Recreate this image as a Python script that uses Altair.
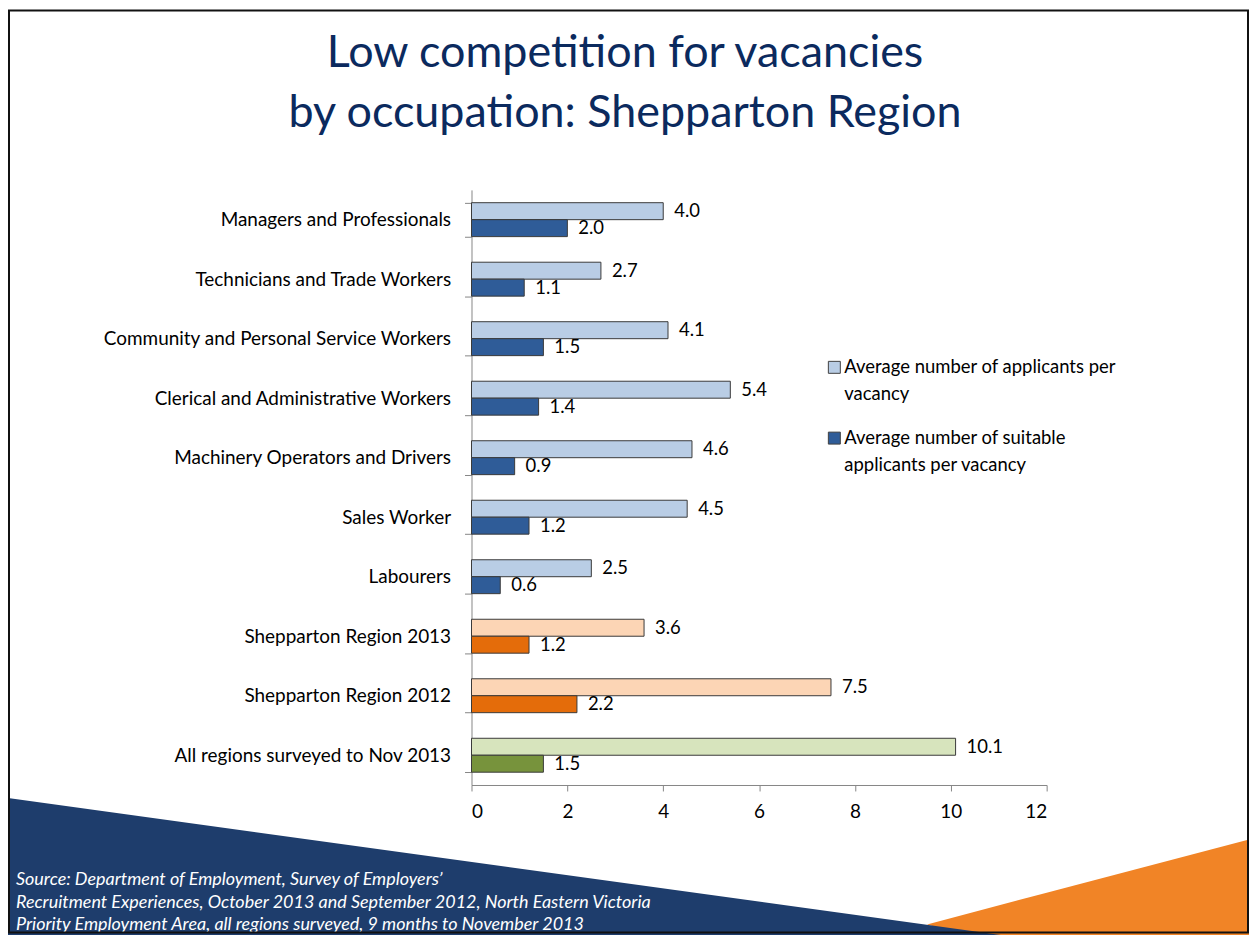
import altair as alt
import pandas as pd

# ---------------- data ----------------
categories = [
    "Managers and Professionals",
    "Technicians and Trade Workers",
    "Community and Personal Service Workers",
    "Clerical and Administrative Workers",
    "Machinery Operators and Drivers",
    "Sales Worker",
    "Labourers",
    "Shepparton Region 2013",
    "Shepparton Region 2012",
    "All regions surveyed to Nov 2013",
]
applicants = [4.0, 2.7, 4.1, 5.4, 4.6, 4.5, 2.5, 3.6, 7.5, 10.1]
suitable = [2.0, 1.1, 1.5, 1.4, 0.9, 1.2, 0.6, 1.2, 2.2, 1.5]
groups = ["occ"] * 7 + ["shep", "shep", "all"]

series_names = [
    "Average number of applicants per vacancy",
    "Average number of suitable applicants per vacancy",
]
light_colors = {"occ": "#B9CDE5", "shep": "#FCD5B5", "all": "#D7E4BD"}
dark_colors = {"occ": "#2F5C98", "shep": "#E46C0A", "all": "#77933C"}

title_lines = ["Low competition for vacancies", "by occupation: Shepparton Region"]
legend_lines_1 = ["Average number of applicants per", "vacancy"]
legend_lines_2 = ["Average number of suitable", "applicants per vacancy"]
source_lines = [
    "Source: Department of Employment, Survey of Employers\u2019",
    "Recruitment Experiences, October 2013 and September 2012, North Eastern Victoria",
    "Priority Employment Area, all regions surveyed, 9 months to November 2013",
]
x_ticks = [0, 2, 4, 6, 8, 10, 12]

rows = []
for c, a, s, g in zip(categories, applicants, suitable, groups):
    rows.append({"category": c, "series": series_names[0], "value": a,
                 "color": light_colors[g], "label": f"{a:.1f}"})
    rows.append({"category": c, "series": series_names[1], "value": s,
                 "color": dark_colors[g], "label": f"{s:.1f}"})
df = pd.DataFrame(rows)

FONT = "Lato"
W, H = 577, 597
PAD = {"left": 465, "top": 181, "right": 203, "bottom": 149}

# --------------- decorations ---------------
navy = pd.DataFrame({"x": [-473, 600], "y": [609, 757], "y2": [770, 770]})
orange = pd.DataFrame({"x": [457, 577, 790], "y": [737, 705, 649], "y2": [737, 770, 770]})

orange_layer = alt.Chart(orange).mark_area(color="#F18426", clip=False).encode(
    x=alt.X("x:Q", scale=None, axis=None),
    y=alt.Y("y:Q", scale=None, axis=None),
    y2="y2:Q",
)
navy_layer = alt.Chart(navy).mark_area(color="#1E3D6C", clip=False).encode(
    x=alt.X("x:Q", scale=None, axis=None),
    y=alt.Y("y:Q", scale=None, axis=None),
    y2="y2:Q",
)

frame = alt.Chart(pd.DataFrame({"a": [1]})).mark_rect(
    fill=None, filled=False, stroke="#111111", strokeWidth=2
).encode(
    x=alt.value(-464), x2=alt.value(779), y=alt.value(-180), y2=alt.value(745)
)

title1 = alt.Chart(pd.DataFrame({"t": [title_lines[0]]})).mark_text(
    font=FONT, fontSize=45, color="#0B2A5E", align="center", baseline="alphabetic"
).encode(x=alt.value(154), y=alt.value(-123), text="t:N")
title2 = alt.Chart(pd.DataFrame({"t": [title_lines[1]]})).mark_text(
    font=FONT, fontSize=45, color="#0B2A5E", align="center", baseline="alphabetic"
).encode(x=alt.value(154), y=alt.value(-63), text="t:N")

# legend
leg_sq1 = alt.Chart(pd.DataFrame({"a": [1]})).mark_rect(
    color=light_colors["occ"], stroke="#404040", strokeWidth=1
).encode(x=alt.value(358), x2=alt.value(370), y=alt.value(172), y2=alt.value(184))
leg_sq2 = alt.Chart(pd.DataFrame({"a": [1]})).mark_rect(
    color=dark_colors["occ"], stroke="#404040", strokeWidth=1
).encode(x=alt.value(358), x2=alt.value(370), y=alt.value(243), y2=alt.value(255))

def text_line(t, x, y, size=18.5, color="#000000", style="normal"):
    return alt.Chart(pd.DataFrame({"t": [t]})).mark_text(
        font=FONT, fontSize=size, color=color, align="left",
        baseline="alphabetic", fontStyle=style
    ).encode(x=alt.value(x), y=alt.value(y), text="t:N")

leg_texts = [
    text_line(legend_lines_1[0], 374, 184),
    text_line(legend_lines_1[1], 374, 211),
    text_line(legend_lines_2[0], 374, 255),
    text_line(legend_lines_2[1], 374, 282),
]
src_texts = [
    text_line(source_lines[0], -457, 697, size=18, color="#FFFFFF", style="italic"),
    text_line(source_lines[1], -457, 720, size=18, color="#FFFFFF", style="italic"),
    text_line(source_lines[2], -457, 742, size=18, color="#FFFFFF", style="italic"),
]

# --------------- bars ---------------
y_enc = alt.Y(
    "category:N", sort=categories,
    scale=alt.Scale(paddingInner=0.43, paddingOuter=0.215),
    axis=alt.Axis(
        title=None, labelFont=FONT, labelFontSize=19, labelColor="#000000",
        tickBand="extent", tickSize=7, tickColor="#868686", domainColor="#868686",
        labelPadding=14, labelLimit=500,
    ),
)
yoff = alt.YOffset("series:N", sort=series_names)
x_enc = alt.X(
    "value:Q", scale=alt.Scale(domain=[0, 12], nice=False),
    axis=alt.Axis(
        title=None, values=x_ticks, labelFont=FONT, labelFontSize=19,
        labelColor="#000000", tickSize=6, tickColor="#868686",
        domainColor="#868686", labelPadding=12, grid=False,
    ),
)

bars = alt.Chart(df).mark_bar(stroke="#3A3A3A", strokeWidth=1).encode(
    y=y_enc, yOffset=yoff, x=x_enc, color=alt.Color("color:N", scale=None)
)
labels = alt.Chart(df).mark_text(
    font=FONT, fontSize=18.5, align="left", baseline="middle", dx=11, color="#000000"
).encode(
    y=alt.Y("category:N", sort=categories), yOffset=yoff,
    x=alt.X("value:Q"), text="label:N"
)

chart = alt.layer(
    orange_layer, navy_layer, title1, title2, leg_sq1, leg_sq2, *leg_texts,
    *src_texts, bars, labels, frame
).properties(
    width=W, height=H, padding=PAD,
    autosize=alt.AutoSizeParams(type="none"),
    background="white",
).configure_view(stroke=None)

chart.save("out.html", embed_options={"renderer": "svg", "actions": False})
